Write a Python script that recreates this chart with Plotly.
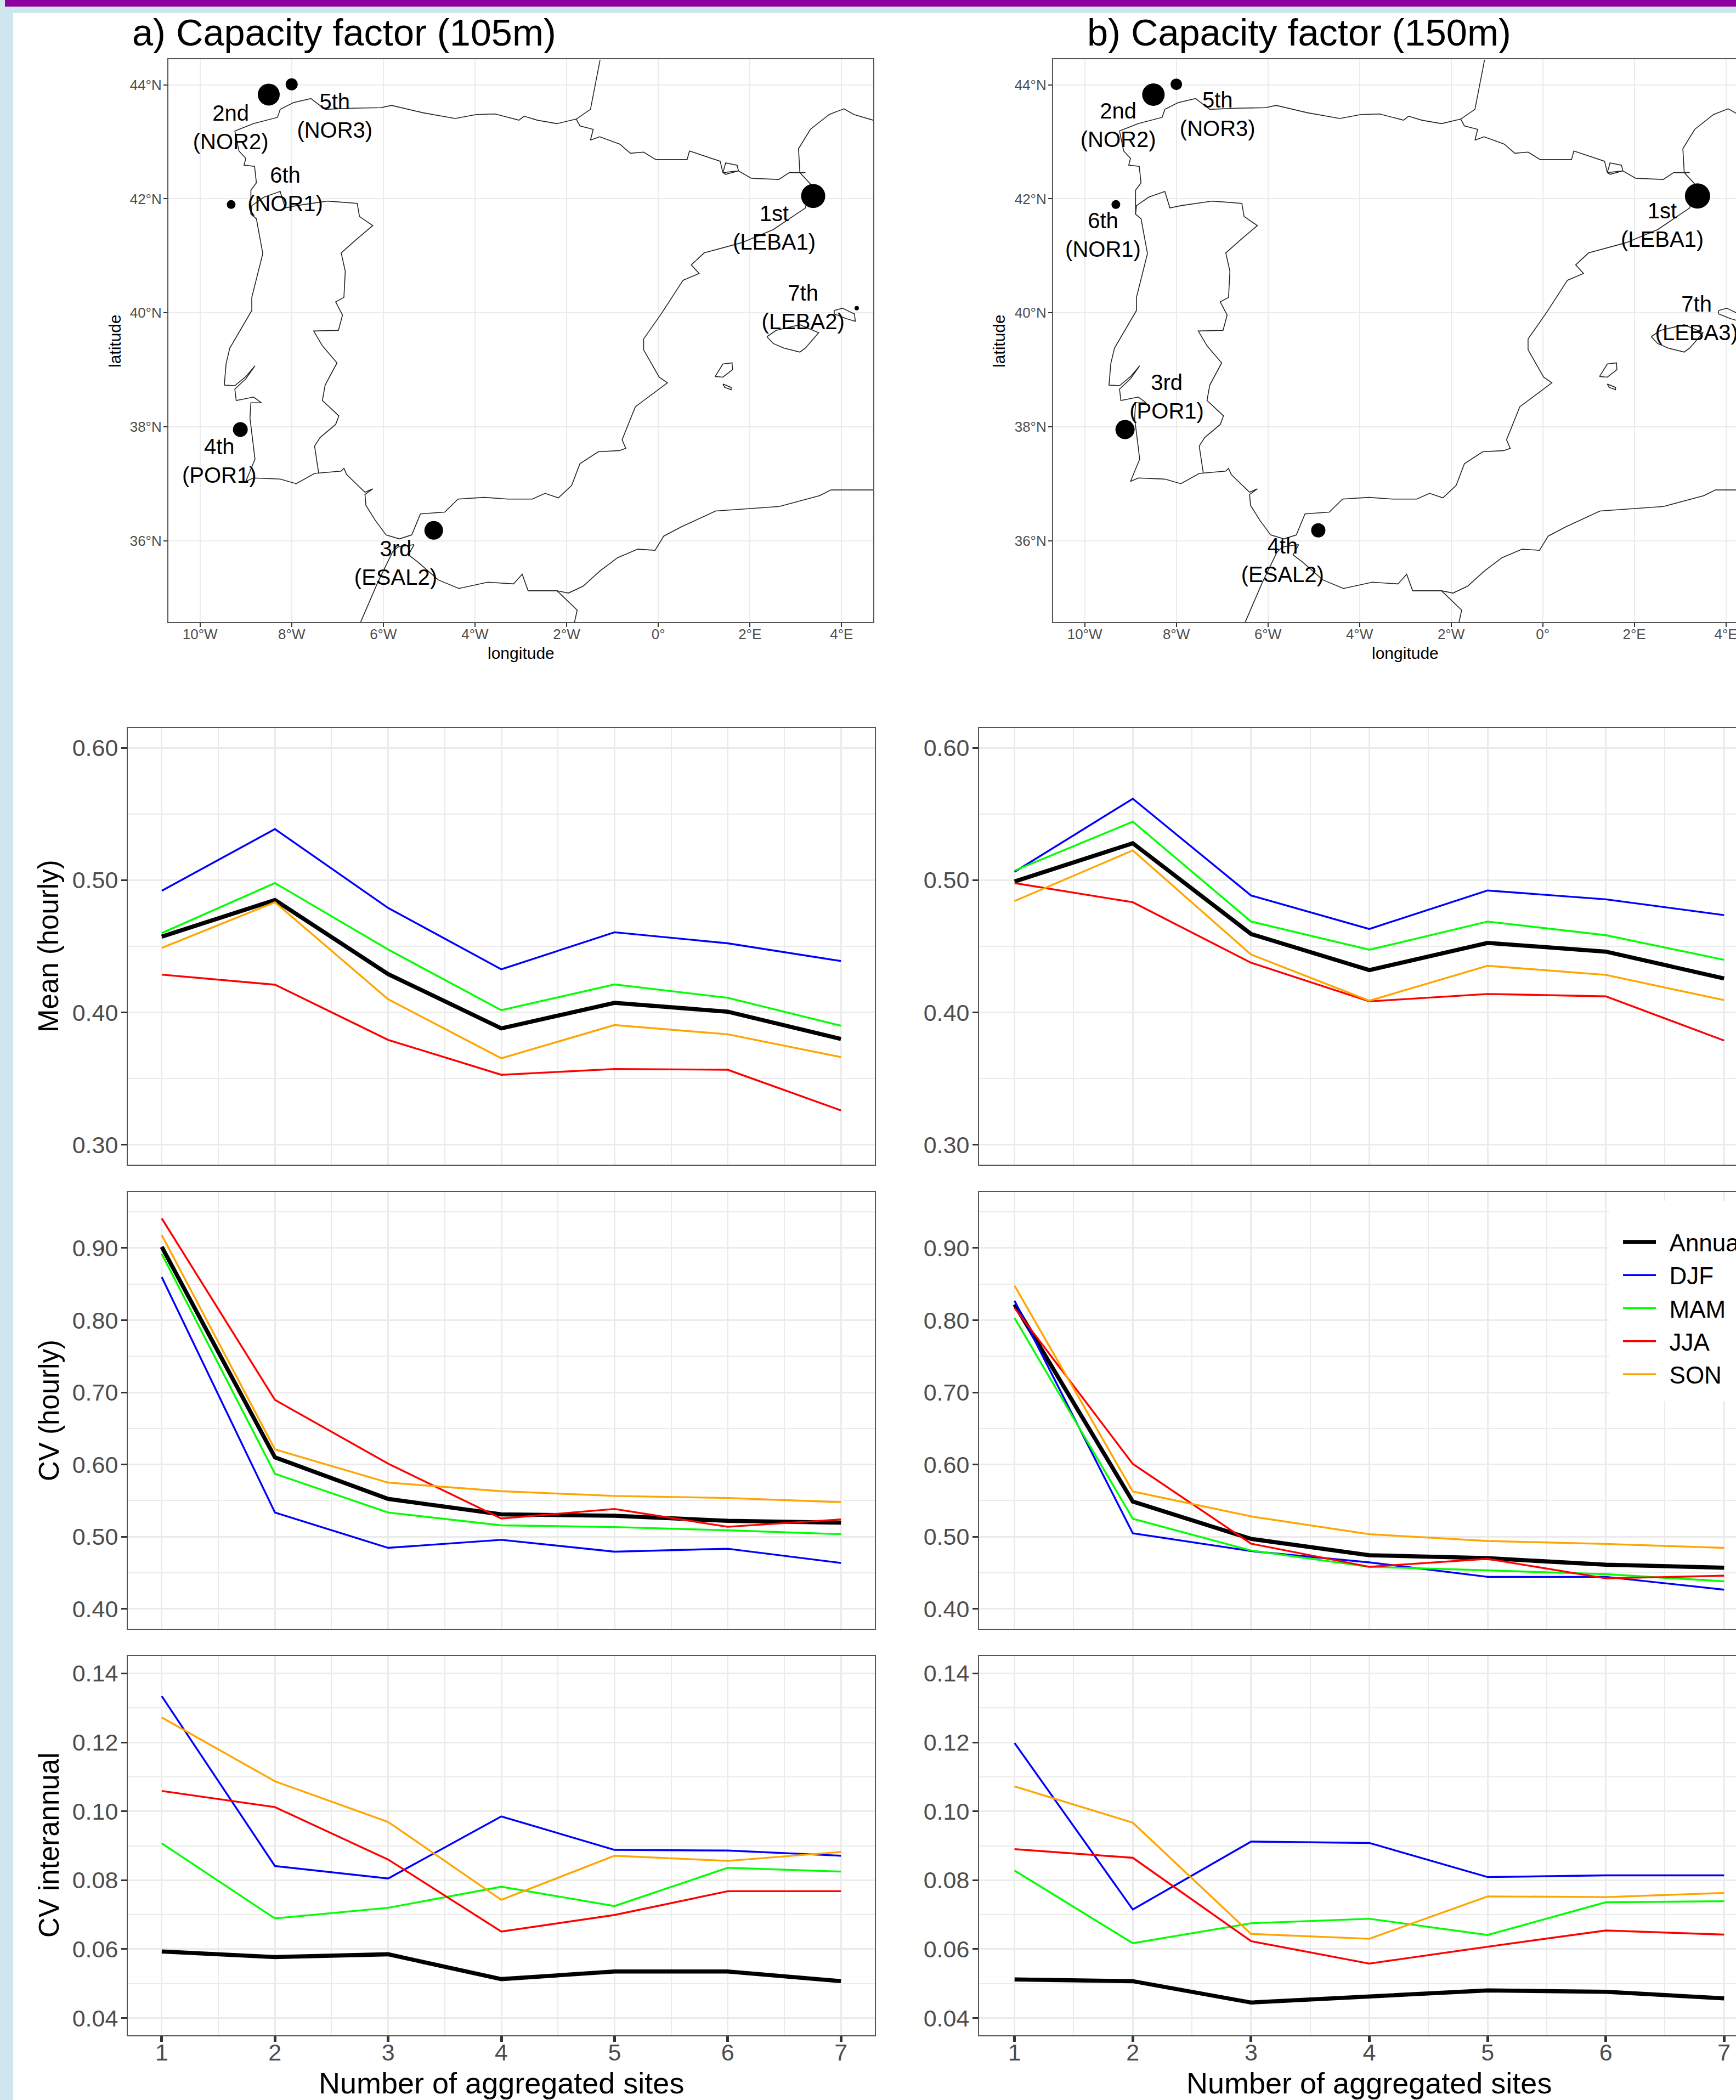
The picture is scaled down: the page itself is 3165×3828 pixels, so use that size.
import plotly.graph_objects as go

W, H = 3165, 3828

SITES_N = [1, 2, 3, 4, 5, 6, 7]
SEASONS = ["Annual", "DJF", "MAM", "JJA", "SON"]
COLORS = {"Annual": "#000000", "DJF": "#0000FF", "MAM": "#00FF00", "JJA": "#FF0000", "SON": "#FFA500"}

# ---- line panels ----
mean_a_annual = [.4573, .485, .429, .388, .4073, .4006, .380]
mean_a_djf = [.492, .5386, .479, .4326, .4606, .4523, .4389]
mean_a_mam = [.460, .4978, .4476, .4017, .4212, .4111, .390]
mean_a_jja = [.4286, .421, .3793, .3529, .3573, .3567, .326]
mean_a_son = [.4488, .4833, .410, .3654, .3905, .3835, .3663]

mean_b_annual = [.499, .5279, .4593, .432, .4526, .446, .4257]
mean_b_djf = [.5063, .5615, .4884, .4631, .4922, .4855, .4736]
mean_b_mam = [.5072, .5442, .4687, .4474, .4687, .4584, .4398]
mean_b_jja = [.4978, .4833, .4376, .4084, .414, .4122, .3788]
mean_b_son = [.4842, .5225, .4438, .4089, .4353, .4284, .4093]

cvh_a_annual = [.9016, .61, .5524, .531, .529, .522, .5195]
cvh_a_djf = [.8597, .5335, .4846, .4957, .4793, .4834, .4637]
cvh_a_mam = [.8918, .5873, .5335, .5158, .5134, .5089, .5035]
cvh_a_jja = [.941, .6896, .6013, .5253, .5385, .5138, .524]
cvh_a_son = [.918, .621, .575, .5631, .5565, .5537, .5479]

cvh_b_annual = [.8219, .5487, .497, .4744, .4703, .4612, .4571]
cvh_b_djf = [.8269, .5048, .4801, .4645, .4444, .4444, .4267]
cvh_b_mam = [.803, .5249, .4809, .4583, .4534, .4481, .4382]
cvh_b_jja = [.817, .6009, .4904, .4583, .4694, .4423, .446]
cvh_b_son = [.8478, .5627, .5282, .5035, .4941, .49, .4846]

cvi_a_annual = [.0593, .0577, .0585, .0513, .0535, .0535, .0507]
cvi_a_djf = [.1334, .0841, .0805, .0985, .0888, .0886, .0871]
cvi_a_mam = [.0907, .0689, .072, .0781, .0725, .0836, .0825]
cvi_a_jja = [.1059, .1012, .086, .0651, .0699, .0768, .0768]
cvi_a_son = [.1272, .1087, .0969, .0743, .0871, .0856, .0882]

cvi_b_annual = [.0512, .0507, .0445, .0463, .048, .0476, .0457]
cvi_b_djf = [.1198, .0715, .0912, .0908, .0809, .0814, .0814]
cvi_b_mam = [.0828, .0617, .0675, .0688, .0641, .0736, .0739]
cvi_b_jja = [.089, .0865, .0623, .0558, .0607, .0654, .0642]
cvi_b_son = [.1072, .0967, .0644, .063, .0753, .0751, .0763]

MEAN_A = [mean_a_annual, mean_a_djf, mean_a_mam, mean_a_jja, mean_a_son]
MEAN_B = [mean_b_annual, mean_b_djf, mean_b_mam, mean_b_jja, mean_b_son]
CVH_A = [cvh_a_annual, cvh_a_djf, cvh_a_mam, cvh_a_jja, cvh_a_son]
CVH_B = [cvh_b_annual, cvh_b_djf, cvh_b_mam, cvh_b_jja, cvh_b_son]
CVI_A = [cvi_a_annual, cvi_a_djf, cvi_a_mam, cvi_a_jja, cvi_a_son]
CVI_B = [cvi_b_annual, cvi_b_djf, cvi_b_mam, cvi_b_jja, cvi_b_son]

mean_major = [.30, .40, .50, .60]
mean_minor = [.35, .45, .55]
cvh_major = [.40, .50, .60, .70, .80, .90]
cvh_minor = [.45, .55, .65, .75, .85, .95]
cvi_major = [.04, .06, .08, .10, .12, .14]
cvi_minor = [.05, .07, .09, .11, .13]

# ---- map ----
coast_iberia_lon = [-1.27, -1.48, -1.79, -2.21, -2.64, -2.93, -3.04, -3.56, -3.97, -4.43, -5.13, -5.82, -6.05, -6.69, -7.27, -7.58, -7.96, -8.25, -8.31, -8.83, -9.24, -9.15, -9.0, -9.04, -8.81, -8.77, -8.89, -8.89, -8.77, -8.63, -8.87, -8.87, -9.35, -9.43, -9.47, -9.24, -9.0, -8.8, -9.0, -9.24, -9.21, -8.83, -8.66, -8.89, -8.91, -8.8, -9.0, -8.83, -8.25, -7.9, -7.5, -6.92, -6.86, -6.8, -6.4, -6.23, -6.4, -6.38, -6.17, -5.94, -5.65, -5.38, -5.19, -4.66, -4.37, -3.8, -3.28, -2.75, -2.47, -2.18, -1.89, -1.71, -1.31, -0.85, -0.71, -0.79, -0.5, 0.14, 0.2, 0.02, -0.32, -0.32, 0.08, 0.54, 0.89, 0.72, 1.0, 1.82, 2.51, 3.21, 3.32, 3.09, 3.06, 3.32, 3.73, 4.05, 4.27, 4.69]
coast_iberia_lat = [44.44, 43.57, 43.40, 43.32, 43.38, 43.45, 43.38, 43.49, 43.48, 43.41, 43.51, 43.64, 43.60, 43.59, 43.57, 43.76, 43.69, 43.57, 43.43, 43.32, 43.19, 42.84, 42.71, 42.59, 42.57, 42.28, 42.15, 41.73, 41.65, 41.04, 40.27, 40.04, 39.38, 39.11, 38.73, 38.72, 38.88, 39.07, 38.84, 38.66, 38.46, 38.52, 38.42, 38.42, 38.15, 37.43, 37.04, 37.10, 37.08, 37.0, 37.18, 37.22, 37.27, 37.16, 36.85, 36.91, 36.81, 36.62, 36.35, 36.10, 36.03, 36.1, 36.47, 36.5, 36.73, 36.76, 36.73, 36.73, 36.83, 36.75, 36.97, 37.35, 37.56, 37.58, 37.62, 37.77, 38.35, 38.73, 38.77, 38.87, 39.35, 39.54, 40.0, 40.57, 40.69, 40.84, 41.05, 41.23, 41.46, 41.84, 42.26, 42.46, 42.88, 43.22, 43.48, 43.58, 43.48, 43.38]
border_fr_lon = [-1.79, -1.71, -1.42, -1.48, -1.28, -0.84, -0.61, -0.32, -0.06, 0.63, 0.68, 1.35, 1.41, 1.47, 1.72, 1.75, 1.47, 1.41, 1.75, 2.03, 2.63, 2.86, 3.21]
border_fr_lat = [43.40, 43.28, 43.22, 43.03, 43.09, 42.96, 42.8, 42.82, 42.69, 42.69, 42.84, 42.66, 42.46, 42.63, 42.59, 42.49, 42.43, 42.46, 42.49, 42.36, 42.34, 42.46, 42.46]
border_pt_lon = [-8.89, -8.87, -8.6, -8.25, -8.14, -7.9, -7.21, -6.57, -6.52, -6.23, -6.57, -6.92, -6.83, -6.86, -7.04, -6.89, -6.98, -7.52, -7.33, -7.01, -7.27, -7.33, -6.97, -7.04, -7.38, -7.5, -7.41]
border_pt_lat = [41.73, 41.88, 42.03, 42.13, 41.84, 41.88, 41.96, 41.92, 41.69, 41.53, 41.30, 41.05, 40.73, 40.27, 40.19, 39.96, 39.69, 39.68, 39.42, 39.12, 38.73, 38.46, 38.19, 38.04, 37.81, 37.66, 37.18]
coast_africa_lon = [-6.5, -6.12, -5.8, -5.68, -5.33, -5.45, -5.24, -4.8, -4.35, -3.72, -3.16, -2.97, -2.84, -2.21, -1.96, -1.64, -1.27, -0.89, -0.45, -0.07, 0.12, 0.5, 1.25, 2.64, 3.52, 3.77, 4.69]
coast_africa_lat = [34.56, 35.27, 35.8, 35.89, 35.93, 35.75, 35.62, 35.31, 35.16, 35.27, 35.24, 35.41, 35.12, 35.12, 35.08, 35.2, 35.47, 35.7, 35.85, 35.83, 36.08, 36.24, 36.52, 36.6, 36.79, 36.89, 36.89]
border_ma_lon = [-2.21, -1.77, -1.83]
border_ma_lat = [35.12, 34.78, 34.56]
mallorca_lon = [2.37, 2.57, 3.09, 3.5, 3.21, 3.09, 2.74, 2.51, 2.37]
mallorca_lat = [39.58, 39.69, 39.79, 39.65, 39.38, 39.31, 39.38, 39.46, 39.58]
menorca_lon = [3.84, 4.02, 4.28, 4.3, 4.09, 3.84, 3.84]
menorca_lat = [40.04, 40.08, 39.98, 39.85, 39.9, 39.98, 40.04]
ibiza_lon = [1.24, 1.41, 1.61, 1.62, 1.41, 1.24]
ibiza_lat = [38.88, 39.1, 39.12, 39.0, 38.87, 38.88]
formentera_lon = [1.41, 1.59, 1.59, 1.45, 1.41]
formentera_lat = [38.75, 38.69, 38.65, 38.69, 38.75]
OUTLINES = [
    (coast_iberia_lon, coast_iberia_lat), (border_fr_lon, border_fr_lat), (border_pt_lon, border_pt_lat),
    (coast_africa_lon, coast_africa_lat), (border_ma_lon, border_ma_lat), (mallorca_lon, mallorca_lat),
    (menorca_lon, menorca_lat), (ibiza_lon, ibiza_lat), (formentera_lon, formentera_lat),
]

site_lon = [3.38, -8.5, -4.9, -9.12, -8.0, -9.32, 4.33]
site_lat = [42.05, 43.83, 36.18, 37.95, 44.01, 41.9, 40.08]
site_size_a = [44, 40, 34, 27, 22, 16, 8]
site_size_b = [46, 41, 26, 35, 21, 16, 8]

label_a_text = ["1st<br>(LEBA1)", "2nd<br>(NOR2)", "3rd<br>(ESAL2)", "4th<br>(POR1)", "5th<br>(NOR3)", "6th<br>(NOR1)", "7th<br>(LEBA2)"]
label_a_lon = [2.53, -9.33, -5.73, -9.58, -7.06, -8.14, 3.16]
label_a_lat = [41.46, 43.22, 35.57, 37.36, 43.42, 42.13, 40.06]
label_b_text = ["1st<br>(LEBA1)", "2nd<br>(NOR2)", "4th<br>(ESAL2)", "3rd<br>(POR1)", "5th<br>(NOR3)", "6th<br>(NOR1)", "7th<br>(LEBA3)"]
label_b_lon = [2.61, -9.27, -5.68, -8.21, -7.1, -9.6, 3.36]
label_b_lat = [41.5, 43.26, 35.62, 38.49, 43.45, 41.33, 39.87]

lon_ticks = [-10, -8, -6, -4, -2, 0, 2, 4]
lon_labels = ["10°W", "8°W", "6°W", "4°W", "2°W", "0°", "2°E", "4°E"]
lat_ticks = [36, 38, 40, 42, 44]
lat_labels = ["36°N", "38°N", "40°N", "42°N", "44°N"]

FONT = "Liberation Sans, Arial, sans-serif"
GRID = "#EBEBEB"
BORDER = "#555555"
TICKTXT = "#4D4D4D"


def fx(px):
    return px / W


def fy(py):
    return 1 - py / H


fig = go.Figure()
layout = {}
ax_n = [0]


def add_axes(left, right, top, bottom, xr, yr, xt, xl, yt, yl, xminor, yminor, mapstyle, showx, tickfont, mirror_y):
    ax_n[0] += 1
    n = ax_n[0]
    xa, ya = f"xaxis{n}", f"yaxis{n}"
    gw = 2 if mapstyle else 3
    layout[xa] = dict(
        domain=[fx(left), fx(right)], range=xr, anchor=f"y{n}", tickmode="array", tickvals=xt, ticktext=xl,
        showgrid=True, gridcolor=GRID, gridwidth=gw, zeroline=False, showline=True, linecolor=BORDER, linewidth=2,
        mirror=True, ticks="outside" if showx else "", ticklen=7 if mapstyle else 10,
        tickwidth=2 if mapstyle else 5, tickcolor="#333333", ticklabelstandoff=-9 if mapstyle else -18,
        ticklabeloverflow="allow",
        showticklabels=showx, tickfont=dict(family=FONT, size=tickfont, color=TICKTXT),
        minor=dict(tickmode="array", tickvals=xminor, showgrid=bool(xminor), gridcolor=GRID, gridwidth=1.8, ticks=""),
    )
    layout[ya] = dict(
        domain=[fy(bottom), fy(top)], range=yr, anchor=f"x{n}", tickmode="array", tickvals=yt, ticktext=yl,
        showgrid=True, gridcolor=GRID, gridwidth=gw, zeroline=False, showline=True, linecolor=BORDER, linewidth=2,
        mirror=mirror_y, ticks="outside", ticklen=7 if mapstyle else 10, tickwidth=2 if mapstyle else 3,
        ticklabelstandoff=-2 if mapstyle else -3,
        tickcolor="#333333", tickfont=dict(family=FONT, size=tickfont, color=TICKTXT),
        minor=dict(tickmode="array", tickvals=yminor, showgrid=bool(yminor), gridcolor=GRID, gridwidth=1.8, ticks=""),
    )
    return f"x{n}", f"y{n}"


def add_map(left, right, lonr, sizes, ltext, llon, llat, mirror_y):
    x, y = add_axes(left, right, 108, 1134, lonr, [34.57, 44.45], lon_ticks, lon_labels, lat_ticks, lat_labels,
                    [], [], True, True, 26, mirror_y)
    for lo, la in OUTLINES:
        fig.add_trace(go.Scatter(x=lo, y=la, mode="lines", line=dict(color="#222222", width=1.6), xaxis=x, yaxis=y,
                                 showlegend=False, hoverinfo="skip"))
    fig.add_trace(go.Scatter(x=site_lon, y=site_lat, mode="markers",
                             marker=dict(color="black", size=sizes, opacity=1, line=dict(width=0)),
                             xaxis=x, yaxis=y, showlegend=False))
    fig.add_trace(go.Scatter(x=llon, y=llat, mode="text", text=ltext, textposition="middle center",
                             textfont=dict(family=FONT, size=40, color="black"), xaxis=x, yaxis=y, showlegend=False))


XA = (233, 1595)
XB = (1785, 3165)
xr_a = [0.7, 7.3]
xr_b = [0.7, 0.7 + (3165 - 1785) / 215.6]
x_major = SITES_N
x_minor = [1.5, 2.5, 3.5, 4.5, 5.5, 6.5]
X_LAB = [str(v) for v in SITES_N]


def add_lines(col, top, bottom, yr, yt, ymin, fmt, series, showx, legend):
    xs = XA if col == 0 else XB
    xr = xr_a if col == 0 else xr_b
    x, y = add_axes(xs[0], xs[1], top, bottom, xr, yr, x_major, X_LAB, yt, [fmt % v for v in yt],
                    x_minor, ymin, False, showx, 43, col == 0)
    for name, vals in zip(SEASONS, series):
        fig.add_trace(go.Scatter(
            x=SITES_N, y=vals, mode="lines", name="\u00a0\u2006" + name if legend else name,
            line=dict(color=COLORS[name], width=7.5 if name == "Annual" else 3.4),
            xaxis=x, yaxis=y, showlegend=legend))


add_map(307, 1592, [-10.69, 4.69], site_size_a, label_a_text, label_a_lon, label_a_lat, True)
add_map(1920, 3165, [-10.69, -10.69 + (3165 - 1920) / 83.5], site_size_b, label_b_text, label_b_lon, label_b_lat, False)

R_MEAN = (1327, 2123, [.285, .615])
R_CVH = (2173, 2969, [.3725, .9775])
R_CVI = (3019, 3710, [.035, .145])

add_lines(0, R_MEAN[0], R_MEAN[1], R_MEAN[2], mean_major, mean_minor, "%.2f", MEAN_A, False, False)
add_lines(1, R_MEAN[0], R_MEAN[1], R_MEAN[2], mean_major, mean_minor, "%.2f", MEAN_B, False, False)
add_lines(0, R_CVH[0], R_CVH[1], R_CVH[2], cvh_major, cvh_minor, "%.2f", CVH_A, False, False)
add_lines(1, R_CVH[0], R_CVH[1], R_CVH[2], cvh_major, cvh_minor, "%.2f", CVH_B, False, True)
add_lines(0, R_CVI[0], R_CVI[1], R_CVI[2], cvi_major, cvi_minor, "%.2f", CVI_A, True, False)
add_lines(1, R_CVI[0], R_CVI[1], R_CVI[2], cvi_major, cvi_minor, "%.2f", CVI_B, True, False)


def note(text, px, py, size, angle=0, anchor="center", color="black"):
    return dict(text=text, x=fx(px), y=fy(py), xref="paper", yref="paper", showarrow=False, xanchor=anchor,
                yanchor="middle", textangle=angle, font=dict(family=FONT, size=size, color=color))


annotations = [
    note("a) Capacity factor (105m)", 239, 60, 68.5, anchor="left"),
    note("b) Capacity factor (150m)", 1980, 60, 68.5, anchor="left"),
    note("longitude", 950, 1191, 30),
    note("longitude", 2562, 1191, 30),
    note("latitude", 210, 622, 30, angle=-90),
    note("latitude", 1822, 622, 30, angle=-90),
    note("Mean (hourly)", 89, 1725, 51, angle=-90),
    note("CV (hourly)", 89, 2571, 51, angle=-90),
    note("CV interannual", 89, 3364, 51, angle=-90),
    note("Number of aggregated sites", 914, 3797, 54),
    note("Number of aggregated sites", 2496, 3797, 54),
]


def band(x0, x1, y0, y1, color, layer="below"):
    return dict(type="rect", xref="paper", yref="paper", x0=fx(x0), x1=fx(x1), y0=fy(y1), y1=fy(y0),
                fillcolor=color, line=dict(width=0), layer=layer)


shapes = [
    band(0, 24, 0, H, "#CFE6EE"),
    band(0, W, 0, 24, "#CFE6EE"),
    band(9, W, 0, 12, "#8E00A0"),
    band(2933, W, 2189, 2554, "white", layer="above"),
]

fig.update_layout(
    width=W, height=H, autosize=False, margin=dict(l=0, r=0, t=0, b=0, pad=0, autoexpand=False),
    paper_bgcolor="white", plot_bgcolor="white", font=dict(family=FONT),
    annotations=annotations, shapes=shapes,
    legend=dict(x=fx(2954), xanchor="left", y=fy(2229), yanchor="top", bgcolor="rgba(255,255,255,0)",
                font=dict(family=FONT, size=44, color="black"), itemwidth=60, tracegroupgap=0,
                entrywidth=135, entrywidthmode="pixels", borderwidth=0),
    **layout,
)

fig.write_html("out.html", config=dict(displayModeBar=False),
               post_script="document.body.style.margin='0';document.body.style.overflow='hidden';")
